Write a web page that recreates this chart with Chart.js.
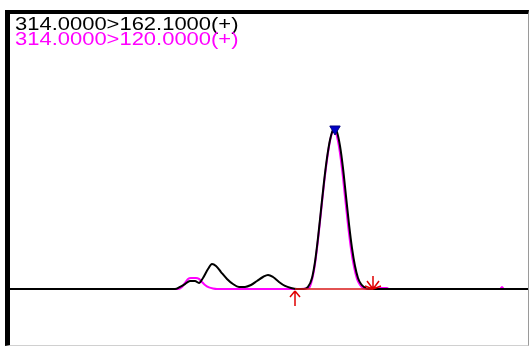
<!DOCTYPE html>
<html>
<head>
<meta charset="utf-8">
<script src="https://cdn.jsdelivr.net/npm/chart.js@4.4.0/dist/chart.umd.min.js"></script>
<style>
  html, body { margin: 0; padding: 0; background: #fff; }
  #frame {
    position: absolute; left: 5px; top: 10px;
    width: 518px; height: 331px;
    border-left: 5px solid #000; border-top: 4px solid #000;
    border-right: 1px solid #9a9a9a; border-bottom: 1px solid #d0d0d0;
  }
  #frame canvas { position: absolute; left: 0; top: 0; }
  .trace-label {
    position: absolute; left: 5px;
    font-family: "Liberation Sans", Arial, sans-serif;
    font-size: 17.5px; line-height: 14.5px; white-space: nowrap;
    transform: scaleX(1.255); transform-origin: 0 0;
  }
</style>
</head>
<body>
<div id="frame">
  <canvas id="chrom" width="518" height="331"></canvas>
  <div class="trace-label" id="lbl1" style="top:3.4px;color:#000"></div>
  <div class="trace-label" id="lbl2" style="top:17.9px;color:#ff00ff"></div>
</div>
<script>
"use strict";

// ~ transitions (MRM)
const traceLabels = ["314.0000>162.1000(+)", "314.0000>120.0000(+)"];

// * 314 > 162.1 (black), time in min, relative intensity in %
const timeBlack = [0, 1.65, 1.70, 1.75, 1.80, 1.85, 1.89, 1.93, 1.98, 2.02, 2.06, 2.11, 2.17, 2.23, 2.29,
  2.35, 2.41, 2.47, 2.53, 2.58, 2.63, 2.69, 2.75, 2.81, 2.87, 2.94, 2.98, 3.02, 3.05, 3.08, 3.11, 3.14,
  3.17, 3.20, 3.23, 3.25, 3.27, 3.30, 3.33, 3.36, 3.39, 3.42, 3.45, 3.48, 3.51, 3.54, 3.58, 5.18];
const intBlack = [0, 0, 1.3, 3.1, 5.0, 5.0, 3.8, 6.9, 12.5, 15.6, 14.4, 10.6, 6.3, 3.1, 1.3,
  1.3, 2.5, 5.0, 7.5, 8.8, 7.5, 4.4, 1.9, 0.6, 0, 0, 1.3, 6.9, 16.9, 31.9, 49.4, 66.9,
  81.9, 93.1, 99.4, 100, 98.1, 89.4, 75.6, 58.1, 40.6, 25.6, 14.4, 6.9, 3.1, 1.3, 0, 0];

// * 314 > 120 (magenta)
const timeMagenta = [0, 1.68, 1.72, 1.75, 1.78, 1.81, 1.86, 1.89, 1.92, 1.95, 1.99, 2.03, 2.07, 2.87,
  2.99, 3.02, 3.05, 3.08, 3.11, 3.14, 3.17, 3.20, 3.23, 3.24, 3.26, 3.29, 3.32, 3.35, 3.38, 3.41, 3.44,
  3.47, 3.50, 3.53, 3.56, 3.68, 3.70, 3.77, 3.79, 4.90, 4.92, 4.94, 5.18];
const intMagenta = [0, 0, 1.3, 3.8, 6.3, 6.9, 6.9, 6.3, 4.4, 2.5, 1.0, 0.3, 0, 0,
  0.6, 5.6, 15.6, 30.6, 48.1, 65.6, 80.6, 92.5, 99.0, 99.4, 97.5, 88.8, 75.0, 57.5, 40.0, 25.0, 13.8,
  6.3, 2.5, 0.6, 0, 0, 0.6, 0.6, 0, 0, 1.3, 0, 0];

// & integration of the main peak
const integStart = 2.85;
const integEnd = 3.63;
const apexTime = 3.25;
const apexInt = 100;

const xRange = [0, 5.18];
const yRange = [-35, 171.875];

document.getElementById("lbl1").textContent = traceLabels[0];
document.getElementById("lbl2").textContent = traceLabels[1];

function toPoints(xs, ys) {
  return xs.map((x, i) => ({ x: x, y: ys[i] }));
}

// little red arrows for the integration start / end
function startArrow() {
  const c = document.createElement("canvas");
  c.width = 20; c.height = 40;
  const g = c.getContext("2d");
  g.strokeStyle = "#e00000"; g.lineWidth = 1.5;
  g.beginPath();
  g.moveTo(10, 22); g.lineTo(10, 37);
  g.moveTo(10, 22); g.lineTo(5, 28);
  g.moveTo(10, 22); g.lineTo(15, 28);
  g.stroke();
  return c;
}

function endArrow() {
  const c = document.createElement("canvas");
  c.width = 24; c.height = 40;
  const g = c.getContext("2d");
  g.strokeStyle = "#e00000"; g.lineWidth = 1.5;
  g.beginPath();
  g.moveTo(12, 7); g.lineTo(12, 20);
  g.moveTo(6, 12); g.lineTo(12, 20);
  g.moveTo(18, 12); g.lineTo(12, 20);
  g.moveTo(4, 17); g.lineTo(12, 20);
  g.moveTo(20, 17); g.lineTo(12, 20);
  g.stroke();
  return c;
}

const ctx = document.getElementById("chrom").getContext("2d");
new Chart(ctx, {
  type: "line",
  data: {
    datasets: [
      {
        data: [{ x: apexTime, y: apexInt }],
        showLine: false,
        pointStyle: "triangle",
        rotation: 180,
        pointRadius: 6,
        backgroundColor: "#0000c8",
        borderColor: "#000080",
        borderWidth: 1,
        order: 0,
      },
      {
        data: [{ x: integStart, y: 0 }],
        showLine: false,
        pointStyle: startArrow(),
        order: 0,
      },
      {
        data: [{ x: integEnd, y: 0 }],
        showLine: false,
        pointStyle: endArrow(),
        order: 0,
      },
      {
        data: [{ x: integStart, y: 0 }, { x: integEnd, y: 0 }],
        borderColor: "#d81818",
        borderWidth: 1.5,
        pointRadius: 0,
        order: 1,
      },
      {
        data: toPoints(timeBlack, intBlack),
        borderColor: "#000",
        borderWidth: 2,
        pointRadius: 0,
        cubicInterpolationMode: "monotone",
        order: 2,
      },
      {
        data: toPoints(timeMagenta, intMagenta),
        borderColor: "#ff00ff",
        borderWidth: 2,
        pointRadius: 0,
        cubicInterpolationMode: "monotone",
        order: 3,
      },
    ],
  },
  options: {
    responsive: false,
    animation: false,
    devicePixelRatio: 1,
    layout: { padding: 0, autoPadding: false },
    plugins: { legend: { display: false }, tooltip: { enabled: false } },
    scales: {
      x: { type: "linear", min: xRange[0], max: xRange[1], display: false },
      y: { min: yRange[0], max: yRange[1], display: false },
    },
  },
});
</script>
</body>
</html>
